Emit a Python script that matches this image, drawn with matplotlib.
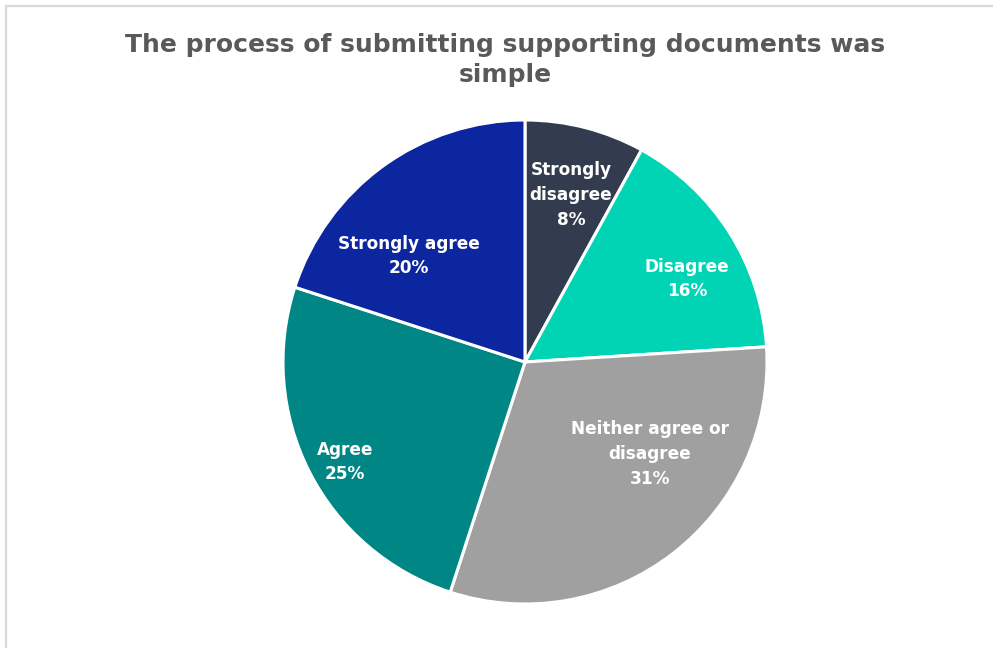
import matplotlib
matplotlib.use('Agg')
import matplotlib.pyplot as plt
from matplotlib.lines import Line2D

# data
categories = ['Strongly disagree', 'Disagree', 'Neither agree or disagree', 'Agree', 'Strongly agree']
values = [8, 16, 31, 25, 20]
label_text = ['Strongly\ndisagree\n8%', 'Disagree\n16%', 'Neither agree or\ndisagree\n31%', 'Agree\n25%', 'Strongly agree\n20%']
colors = ['#333C4E', '#00D4B5', '#A0A0A0', '#008785', '#0C26A0']
title = 'The process of submitting supporting documents was\nsimple'

W, H = 993, 648
fig = plt.figure(figsize=(W / 100, H / 100), dpi=100)
ax = fig.add_axes([0, 0, 1, 1])

cx, cy, r = 525, H - 362, 242
wedges, _ = ax.pie(values, colors=colors, startangle=90, counterclock=False,
                   center=(cx, cy), radius=r, frame=True,
                   wedgeprops=dict(edgecolor='white', linewidth=2.2))
ax.set_xlim(0, W)
ax.set_ylim(0, H)
ax.axis('off')

# chart frame, only left and top edges are visible in the reference
fig.add_artist(Line2D([5.5 / W, 5.5 / W], [0, 1 - 6 / H], color='#D9D9D9', lw=1.6, transform=fig.transFigure))
fig.add_artist(Line2D([5.5 / W, 1], [1 - 6 / H, 1 - 6 / H], color='#D9D9D9', lw=1.6, transform=fig.transFigure))

# label positions in pixels (x, y from top)
label_pos = [(571, 195), (687, 279), (650, 454), (345, 462), (409, 256)]
for txt, (lx, ly) in zip(label_text, label_pos):
    ax.text(lx, H - ly, txt, ha='center', va='center', color='white',
            fontsize=12.2, fontweight='bold', family='DejaVu Sans', linespacing=1.47)

ax.text(505, H - 60, title, ha='center', va='center', color='#595959',
        fontsize=18, fontweight='bold', family='DejaVu Sans', linespacing=1.35)

fig.savefig('out.png', dpi=100)
